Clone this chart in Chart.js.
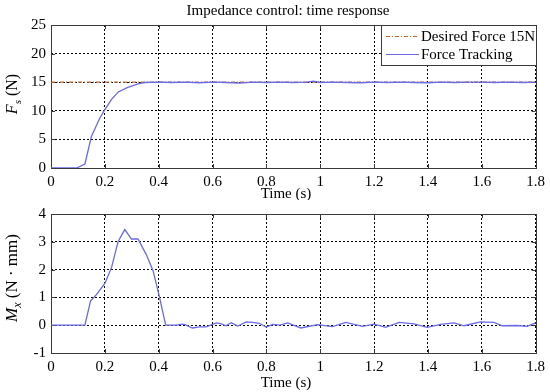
<!DOCTYPE html>
<html>
<head>
<meta charset="utf-8">
<script src="https://cdn.jsdelivr.net/npm/chart.js@4/dist/chart.umd.min.js"></script>
<style>
  html, body { margin: 0; padding: 0; background: #fff; }
  #wrap { position: relative; width: 550px; height: 392px; }
  .box { position: absolute; left: 0; width: 550px; }
</style>
</head>
<body>
<div id="wrap">
  <div class="box" style="top:0;height:200px"><canvas id="forceChart" width="550" height="200"></canvas></div>
  <div class="box" style="top:200px;height:192px"><canvas id="momentChart" width="550" height="192"></canvas></div>
</div>
<script>
const FONT = "'Liberation Serif', 'Times New Roman', serif";

// tick labels
const timeTicks = [0, 0.2, 0.4, 0.6, 0.8, 1, 1.2, 1.4, 1.6, 1.8];
const forceTicks = [0, 5, 10, 15, 20, 25];
const momentTicks = [-1, 0, 1, 2, 3, 4];

// desired force (N)
const desiredTime = [0, 1.8];
const desiredValues = [15, 15];

// tracked force (N)
const forceTime = [0, 0.095, 0.126, 0.15, 0.181, 0.2, 0.225, 0.25, 0.285, 0.33, 0.35,
  0.4, 0.45, 0.5, 0.55, 0.6, 0.65, 0.7, 0.75, 0.8, 0.85, 0.9, 0.95, 0.975,
  1.0, 1.05, 1.1, 1.15, 1.2, 1.25, 1.3, 1.35, 1.4, 1.45, 1.5, 1.55, 1.6, 1.65, 1.7, 1.75, 1.8];
const forceValues = [0, 0, 0.7, 5.5, 8.7, 10.2, 12.0, 13.3, 14.1, 14.8, 14.95,
  15.0, 14.95, 15.0, 14.9, 15.0, 14.95, 14.85, 15.0, 14.95, 15.0, 14.95, 15.0, 15.2,
  14.95, 15.0, 14.95, 14.9, 15.0, 14.95, 15.0, 14.95, 14.9, 15.0, 14.95, 15.0, 15.0, 14.95, 15.0, 14.95, 15.0];

// moment (N·mm)
const momentTime = [0, 0.126, 0.147, 0.168, 0.2, 0.225, 0.249, 0.274, 0.299, 0.323,
  0.354, 0.379, 0.401, 0.426, 0.47, 0.478, 0.496, 0.525, 0.552, 0.577,
  0.614, 0.63, 0.65, 0.669, 0.694, 0.725, 0.75, 0.774, 0.799, 0.824,
  0.85, 0.879, 0.928, 0.99, 1.045, 1.095, 1.157, 1.2, 1.243, 1.293,
  1.348, 1.397, 1.447, 1.497, 1.534, 1.595, 1.645, 1.676, 1.731, 1.768, 1.8];
const momentValues = [0, 0, 0.88, 1.09, 1.5, 2.08, 3.0, 3.44, 3.1, 3.1,
  2.54, 1.96, 1.09, 0, 0, 0.03, 0.03, -0.1, -0.06, -0.06,
  0.08, 0.06, -0.02, 0.09, -0.03, 0.12, 0.1, 0.07, -0.07, 0.03,
  0, 0.08, -0.1, 0.02, -0.05, 0.1, -0.04, 0.04, -0.08, 0.1,
  0.05, -0.08, 0.03, 0.08, -0.02, 0.12, 0.1, -0.02, -0.01, -0.04, 0.08];

const BLUE = "#6a6ae6";
const ORANGE = "#c8642d";
const DASHDOT = [4, 2, 1, 2];

function toPoints(xs, ys) {
  return xs.map((x, i) => ({ x, y: ys[i] }));
}

function partFont(p, size) {
  const s = p.sub ? Math.round(size * 0.7) : size;
  return `${p.italic ? "italic " : ""}${s}px ${FONT}`;
}

function drawRich(ctx, parts, size, x, y, rotate) {
  ctx.save();
  ctx.translate(x, y);
  if (rotate) ctx.rotate(-Math.PI / 2);
  ctx.textBaseline = "alphabetic";
  ctx.textAlign = "left";
  ctx.fillStyle = "#000";
  let total = 0;
  parts.forEach((p) => { ctx.font = partFont(p, size); total += ctx.measureText(p.text).width; });
  let cx = -total / 2;
  parts.forEach((p) => {
    ctx.font = partFont(p, size);
    ctx.fillText(p.text, cx, p.sub ? size * 0.22 : 0);
    cx += ctx.measureText(p.text).width;
  });
  ctx.restore();
}

// box, inward ticks, titles and legend
function framePlugin(cfg) {
  return {
    id: "frame",
    beforeDatasetsDraw(chart) {
      const { ctx, chartArea: a, scales } = chart;
      ctx.save();
      ctx.strokeStyle = "#3a3a3a";
      ctx.lineWidth = 1;
      ctx.setLineDash([]);
      ctx.strokeRect(Math.round(a.left) + 0.5, Math.round(a.top) + 0.5,
        Math.round(a.right - a.left), Math.round(a.bottom - a.top));
      ctx.beginPath();
      timeTicks.forEach((t) => {
        const px = Math.round(scales.x.getPixelForValue(t)) + 0.5;
        ctx.moveTo(px, a.bottom); ctx.lineTo(px, a.bottom - 4);
        ctx.moveTo(px, a.top); ctx.lineTo(px, a.top + 4);
      });
      cfg.yTicks.forEach((v) => {
        const py = Math.round(scales.y.getPixelForValue(v)) + 0.5;
        ctx.moveTo(a.left, py); ctx.lineTo(a.left + 4, py);
        ctx.moveTo(a.right, py); ctx.lineTo(a.right - 4, py);
      });
      ctx.stroke();
      ctx.restore();
    },
    afterDraw(chart) {
      const { ctx } = chart;
      if (cfg.title) drawRich(ctx, [{ text: cfg.title }], 15, 288, 15, false);
      drawRich(ctx, [{ text: "Time (s)" }], 15, 286, cfg.xTitleY, false);
      drawRich(ctx, cfg.yTitle, cfg.yTitleSize, 17, cfg.yTitleY, true);
      if (cfg.legend) {
        ctx.save();
        ctx.fillStyle = "#fff";
        ctx.fillRect(381.5, 25.5, 155, 40);
        ctx.strokeStyle = "#3a3a3a";
        ctx.lineWidth = 1;
        ctx.strokeRect(381.5, 25.5, 155, 40);
        ctx.lineWidth = 1.2;
        ctx.strokeStyle = ORANGE;
        ctx.setLineDash(DASHDOT);
        ctx.beginPath(); ctx.moveTo(386, 36.5); ctx.lineTo(419, 36.5); ctx.stroke();
        ctx.strokeStyle = BLUE;
        ctx.setLineDash([]);
        ctx.beginPath(); ctx.moveTo(386, 54.5); ctx.lineTo(419, 54.5); ctx.stroke();
        ctx.restore();
        ctx.save();
        ctx.fillStyle = "#000";
        ctx.font = `15px ${FONT}`;
        ctx.textBaseline = "middle";
        ctx.fillText("Desired Force 15N", 421, 37);
        ctx.fillText("Force Tracking", 421, 55);
        ctx.restore();
      }
    },
  };
}

function makeChart(id, datasets, yMin, yMax, yTicks, padTop, xHeight, cfg) {
  return new Chart(document.getElementById(id), {
    type: "line",
    data: { datasets },
    options: {
      responsive: false,
      animation: false,
      layout: { padding: { top: padTop, right: 13, left: 0, bottom: 0 } },
      plugins: { legend: { display: false }, tooltip: { enabled: false }, title: { display: false } },
      elements: { point: { radius: 0 }, line: { tension: 0 } },
      scales: {
        x: {
          type: "linear",
          min: 0,
          max: 1.8,
          afterBuildTicks: (s) => { s.ticks = timeTicks.map((v) => ({ value: v })); },
          afterFit: (s) => { s.height = xHeight; },
          grid: { color: "#000", lineWidth: 1, drawTicks: false },
          border: { display: false, dash: [2, 2] },
          ticks: {
            color: "#000",
            padding: 5,
            maxRotation: 0,
            font: { family: FONT, size: 15 },
            callback: (v) => String(Math.round(v * 10) / 10),
          },
        },
        y: {
          min: yMin,
          max: yMax,
          afterBuildTicks: (s) => { s.ticks = yTicks.map((v) => ({ value: v })); },
          afterFit: (s) => { s.width = 51; },
          grid: { color: "#000", lineWidth: 1, drawTicks: false },
          border: { display: false, dash: [2, 2] },
          ticks: {
            color: "#000",
            padding: 5,
            font: { family: FONT, size: 15 },
          },
        },
      },
    },
    plugins: [framePlugin(Object.assign({ yTicks }, cfg))],
  });
}

makeChart("forceChart", [
  {
    label: "Desired Force 15N",
    data: toPoints(desiredTime, desiredValues),
    borderColor: ORANGE,
    borderWidth: 1.2,
    borderDash: DASHDOT,
    order: 1,
  },
  {
    label: "Force Tracking",
    data: toPoints(forceTime, forceValues),
    borderColor: BLUE,
    borderWidth: 1.3,
    order: 0,
  },
], 0, 25, forceTicks, 25, 32, {
  title: "Impedance control: time response",
  xTitleY: 198,
  yTitle: [{ text: "F", italic: true }, { text: "s", italic: true, sub: true }, { text: " (N)" }],
  yTitleSize: 16,
  yTitleY: 94,
  legend: true,
});

makeChart("momentChart", [
  {
    label: "Moment",
    data: toPoints(momentTime, momentValues),
    borderColor: BLUE,
    borderWidth: 1.3,
  },
], -1, 4, momentTicks, 10, 39, {
  xTitleY: 187,
  yTitle: [{ text: "M", italic: true }, { text: "x", italic: true, sub: true }, { text: " (N \u00b7 mm)" }],
  yTitleSize: 17,
  yTitleY: 78,
});
</script>
</body>
</html>
